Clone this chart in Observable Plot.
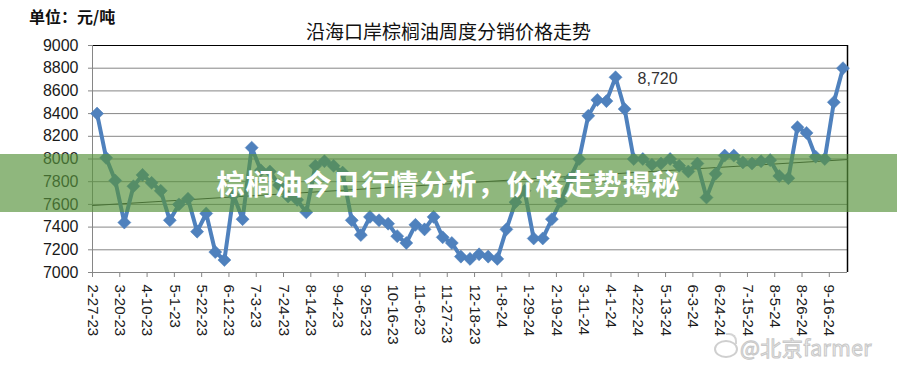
<!DOCTYPE html>
<html>
<head>
<meta charset="utf-8">
<script src="https://cdn.jsdelivr.net/npm/d3@7"></script>
<script src="https://cdn.jsdelivr.net/npm/@observablehq/plot@0.6"></script>
<style>
  body { margin: 0; background: #fff; }
  #wrap { position: relative; width: 897px; height: 367px; overflow: hidden; background: #fff; }
  #wrap svg { position: absolute; left: 0; top: 0; }
  .unit { position: absolute; left: 29px; top: 4px; font: bold 16px "Noto Sans CJK SC", sans-serif; color: #111; }
  .title { position: absolute; left: 0; width: 897px; top: 17px; text-align: center; font: 400 19px "Noto Sans CJK SC", sans-serif; color: #111; }
  .band { position: absolute; left: 0; top: 154px; width: 897px; height: 58px; background: rgba(88,148,61,0.67); }
  .band span { position: absolute; left: 0; width: 897px; top: 9px; text-align: center; font: bold 28px "Noto Sans CJK SC", sans-serif; color: #fff; letter-spacing: 1px; }
  .wm { position: absolute; left: 740px; top: 336px; line-height: 22px; font: 21px/22px "Noto Sans CJK SC", sans-serif; color: rgba(240,240,240,0.95); -webkit-text-stroke: 1px #c8c8c8; letter-spacing: 0.5px; white-space: nowrap; }
  .logo { position: absolute; left: 714px; top: 340px; width: 20px; height: 14px; border: 2px solid #cfcfcf; border-radius: 50%; }
  .logo2 { position: absolute; left: 726px; top: 333px; width: 9px; height: 9px; border-top: 2px solid #d4d4d4; border-right: 2px solid #d4d4d4; border-radius: 0 8px 0 0; }
</style>
</head>
<body>
<div id="wrap">
  <div class="unit">单位：元/吨</div>
  <div class="title">沿海口岸棕榈油周度分销价格走势</div>
</div>
<script>
// Weekly price (元/吨), first week 2-27-23, one value per week
const prices = [
  8400, 8010, 7810, 7440, 7760, 7860, 7790, 7720, 7460, 7600,
  7650, 7360, 7520, 7180, 7110, 7680, 7470, 8100, 7900, 7890,
  7770, 7670, 7640, 7530, 7940, 7980, 7940, 7880, 7460, 7330,
  7490, 7460, 7430, 7320, 7260, 7420, 7380, 7490, 7310, 7260,
  7140, 7120, 7160, 7140, 7120, 7380, 7620, 7720, 7300, 7300,
  7470, 7630, 7830, 8000, 8380, 8520, 8510, 8720, 8440, 8000,
  8000, 7950, 7960, 8000, 7940, 7890, 7960, 7660, 7870, 8030,
  8030, 7970, 7960, 7980, 7990, 7850, 7830, 8280, 8230, 8020,
  8000, 8500, 8800
];
// x tick labels, one every 3 weeks
const tickLabels = [
  "2-27-23", "3-20-23", "4-10-23", "5-1-23", "5-22-23", "6-12-23", "7-3-23",
  "7-24-23", "8-14-23", "9-4-23", "9-25-23", "10-16-23", "11-6-23", "11-27-23",
  "12-18-23", "1-8-24", "1-29-24", "2-19-24", "3-11-24", "4-1-24", "4-22-24",
  "5-13-24", "6-3-24", "6-24-24", "7-15-24", "8-5-24", "8-26-24", "9-16-24"
];
const yTicks = [7000, 7200, 7400, 7600, 7800, 8000, 8200, 8400, 8600, 8800, 9000];
// trend line values read at the left and right plot edges
const trendValues = [7590, 7995];
const peakLabel = ["8,720"];
const peakIndex = 57;

const data = prices.map((v, i) => ({i, v}));
const n = prices.length;
const trend = [{i: -0.5, v: trendValues[0]}, {i: n - 0.5, v: trendValues[1]}];
const tickPos = tickLabels.map((_, k) => k * 3 - 0.5);
const labelAt = new Map(tickPos.map((p, k) => [p, tickLabels[k]]));
const blue = "#4F81BD";
const grid = "#868686";

const chart = Plot.plot({
  width: 897,
  height: 367,
  marginLeft: 92,
  marginRight: 50,
  marginTop: 45,
  marginBottom: 95,
  style: {fontFamily: "'Liberation Sans', Arial, sans-serif", fontSize: "16px", color: "#1a1a1a", background: "transparent", overflow: "visible"},
  x: {domain: [-0.5, n - 0.5]},
  y: {domain: [7000, 9000]},
  marks: [
    Plot.ruleY(yTicks.slice(1, -1), {stroke: grid, strokeWidth: 1}),
    Plot.ruleY([7000], {stroke: grid, strokeWidth: 1}),
    Plot.ruleY([9000], {stroke: "#000", strokeWidth: 1.2}),
    Plot.ruleX([-0.5], {stroke: grid, strokeWidth: 1}),
    Plot.ruleX([n - 0.5], {stroke: "#000", strokeWidth: 1.5}),
    Plot.axisY({ticks: yTicks, tickFormat: d => String(d), tickSize: 4, tickPadding: 10, stroke: grid, fill: "#1a1a1a", fontSize: 16, label: null}),
    Plot.axisX({ticks: tickPos, tickFormat: d => labelAt.get(d), tickRotate: 90, tickSize: 5, tickPadding: 7, stroke: grid, fill: "#1a1a1a", fontSize: 15, label: null}),
    Plot.line(trend, {x: "i", y: "v", stroke: "#2a2a2a", strokeWidth: 1}),
    Plot.line(data, {x: "i", y: "v", stroke: blue, strokeWidth: 4, strokeLinejoin: "round"}),
    Plot.dot(data, {x: "i", y: "v", symbol: "square", rotate: 45, r: 5.2, fill: blue, stroke: blue, strokeWidth: 0.5}),
    Plot.text(peakLabel, {x: () => peakIndex, y: () => prices[peakIndex], text: d => d, dx: 22, dy: 2, textAnchor: "start", fontSize: 16, fill: "#333"})
  ]
});
const wrap = document.getElementById("wrap");
wrap.insertBefore(chart, wrap.firstChild);

const band = document.createElement("div");
band.className = "band";
band.innerHTML = "<span>棕榈油今日行情分析，价格走势揭秘</span>";
wrap.appendChild(band);

const logo = document.createElement("div");
logo.className = "logo";
wrap.appendChild(logo);
const logo2 = document.createElement("div");
logo2.className = "logo2";
wrap.appendChild(logo2);

const wm = document.createElement("div");
wm.className = "wm";
wm.textContent = "@北京farmer";
wrap.appendChild(wm);
</script>
</body>
</html>
